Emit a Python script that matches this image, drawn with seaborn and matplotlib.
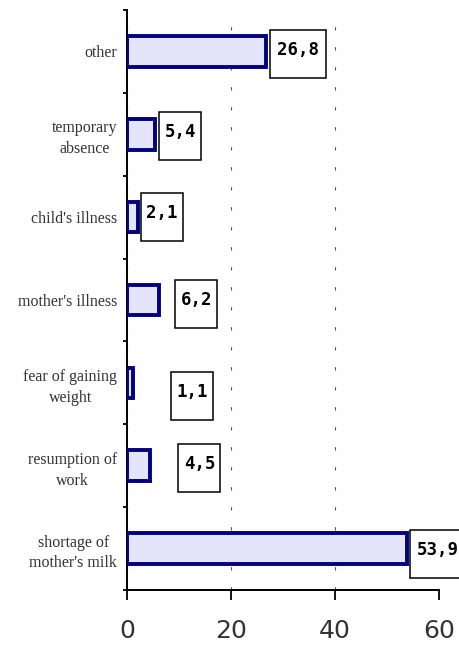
import matplotlib
matplotlib.use("Agg")
import matplotlib.pyplot as plt
import matplotlib.transforms as mtransforms
from matplotlib.patches import Rectangle
import seaborn as sns
import pandas as pd

# ---- data ----
categories = ["other", "temporary\nabsence", "child's illness", "mother's illness",
              "fear of gaining\nweight", "resumption of\nwork", "shortage of\nmother's milk"]
values = [26.8, 5.4, 2.1, 6.2, 1.1, 4.5, 53.9]
value_labels = ["26,8", "5,4", "2,1", "6,2", "1,1", "4,5", "53,9"]
x_ticks = [0, 20, 40, 60]

sns.set_theme(style="ticks")
plt.rcParams["font.family"] = ["DejaVu Sans"]

fig = plt.figure(figsize=(4.59, 6.49), dpi=100)
ax = fig.add_axes([127 / 459, 59 / 649, 312 / 459, 580 / 649])

df = pd.DataFrame({"category": categories, "value": values})
sns.barplot(data=df, x="value", y="category", orient="h", width=0.37,
            color="#e4e4fa", saturation=1, edgecolor="#000080", linewidth=2.8,
            ax=ax, zorder=3)

ax.set_xlim(0, 60)
ax.set_ylim(len(categories) - 0.5, -0.5)
ax.set_xlabel("")
ax.set_ylabel("")

# grid
ax.set_axisbelow(True)
ax.xaxis.grid(True, color="#555555", linewidth=0.8, linestyle=(0, (3, 15)))
ax.yaxis.grid(False)

# spines
for s in ["top", "right"]:
    ax.spines[s].set_visible(False)
for s in ["left", "bottom"]:
    ax.spines[s].set_color("black")
    ax.spines[s].set_linewidth(1.4)

# x ticks
ax.set_xticks(x_ticks)
ax.set_xticklabels([str(t) for t in x_ticks], fontsize=18, color="#333333",
                   fontfamily="DejaVu Sans")
ax.tick_params(axis="x", bottom=True, length=7.2, width=1.3, color="black",
               direction="out", pad=14)

# y ticks: labels at centers, marks at boundaries
ax.set_yticks(range(len(categories)))
ax.set_yticklabels(categories, fontsize=11.5, color="#333333",
                   fontfamily="Liberation Serif")
for lab in ax.get_yticklabels():
    lab.set_multialignment("center")
    lab.set_linespacing(1.4)
ax.set_yticks([i - 0.5 for i in range(len(categories) + 1)], minor=True)
ax.tick_params(axis="y", which="major", left=True, length=0, pad=7)
ax.tick_params(axis="y", which="minor", left=True, length=3, width=1.3,
               color="black", direction="out")

# value label boxes (layout offsets in pixels)
gap_px = [4, 4, 3, 16, 38, 28, 3]
dy_px = [3, 2, 0, 4, 13, 2, 5]
box_h = 48
char_w = 14
for i, (v, lab) in enumerate(zip(values, value_labels)):
    trans = fig.dpi_scale_trans + mtransforms.ScaledTranslation(v, i, ax.transData)
    w = char_w * len(lab)
    x0 = gap_px[i] / 100
    yc = -dy_px[i] / 100
    rect = Rectangle((x0, yc - box_h / 200), w / 100, box_h / 100,
                     transform=trans, facecolor="white", edgecolor="black",
                     linewidth=1.1, clip_on=False, zorder=5)
    ax.add_patch(rect)
    ax.text(x0 + w / 200, yc + 0.04, lab, transform=trans, ha="center",
            va="center", fontsize=12.5, fontweight="bold",
            fontfamily="DejaVu Sans Mono", color="black", clip_on=False, zorder=6)

fig.savefig("out.png", dpi=100)
